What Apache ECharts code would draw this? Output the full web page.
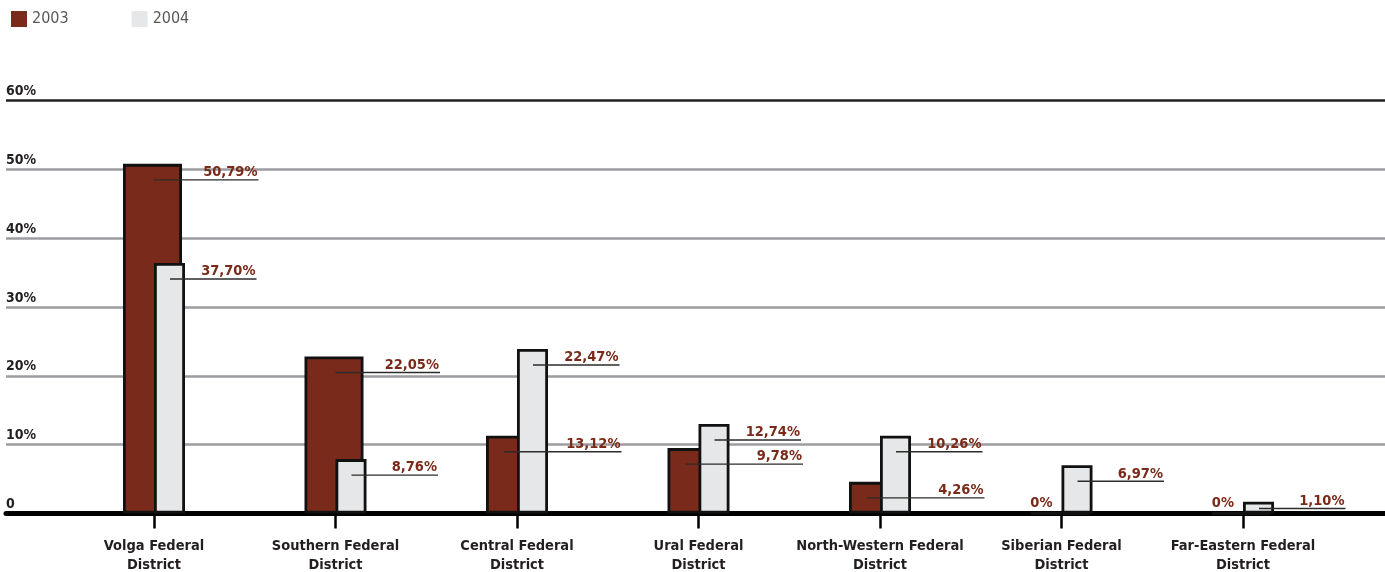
<!DOCTYPE html>
<html style="height: 100%">
<head>
    <meta charset="utf-8">
</head>
<body style="height: 100%; margin: 0; background: #fff">
<div id="container" style="width: 1385px; height: 572px"></div>
<script src="https://cdn.jsdelivr.net/npm/echarts@6/dist/echarts.min.js"></script>
<script type="text/javascript">
// data
var districts = ['Volga Federal District', 'Southern Federal District', 'Central Federal District',
    'Ural Federal District', 'North-Western Federal District', 'Siberian Federal District',
    'Far-Eastern Federal District'];
var bars2003 = [50.8, 22.8, 11.3, 9.5, 4.6, 0, 0];
var bars2004 = [36.4, 7.9, 23.9, 13.0, 11.3, 7.0, 1.7];
var labels2003 = ['50,79%', '22,05%', '13,12%', '9,78%', '4,26%', '0%', '0%'];
var labels2004 = ['37,70%', '8,76%', '22,47%', '12,74%', '10,26%', '6,97%', '1,10%'];
var yTicks = [0, 10, 20, 30, 40, 50, 60];

var boldFont = '"DejaVu Sans Condensed", "DejaVu Sans", sans-serif';
var red = '#7a2a1a';
var grey = '#e6e7e8';

var dom = document.getElementById('container');
var myChart = echarts.init(dom);

// leader line + value text for each bar
function labelSeries(name, values, texts, other, first) {
    return {
        name: name,
        type: 'custom',
        xAxisIndex: 1,
        yAxisIndex: 1,
        z: 5,
        silent: true,
        data: values.map(function (v, i) { return [i, v]; }),
        renderItem: function (params, api) {
            var i = params.dataIndex;
            var v = api.value(1);
            var top = api.coord([i, v]);
            var zero = api.coord([i, 0]);
            var c = top[0];
            var textStyle = {
                text: texts[i],
                fill: '#7a2a19',
                fontFamily: boldFont,
                fontWeight: 'bold',
                fontSize: 14.5,
                align: 'right',
                verticalAlign: 'bottom'
            };
            if (v === 0) {
                return { type: 'text', x: c - 9, y: zero[1] - 3, style: textStyle };
            }
            var y = Math.min(top[1] + 16, zero[1] - 5);
            var x0 = first ? (v > other[i] ? c : c - 13) : c + 16;
            var x1 = first ? c + 104.5 : c + 102.5;
            return {
                type: 'group',
                children: [
                    { type: 'line', shape: { x1: x0, y1: y, x2: x1, y2: y },
                      style: { stroke: '#2b2b2b', lineWidth: 1.4 } },
                    { type: 'text', x: x1 - 1, y: y, style: textStyle }
                ]
            };
        }
    };
}

var option = {
    animation: false,
    legend: {
        data: ['2003', '2004'],
        left: 11,
        top: 11,
        padding: 0,
        icon: 'rect',
        itemWidth: 16,
        itemHeight: 16,
        itemGap: 63,
        itemStyle: { borderWidth: 0 },
        textStyle: {
            fontFamily: '"DejaVu Sans Condensed", "DejaVu Sans", sans-serif',
            fontSize: 16,
            color: '#58595b'
        }
    },
    grid: [
        { left: 6, right: 0, top: 100.5, bottom: 58.5, containLabel: false, outerBoundsMode: 'none' },
        { left: 63.25, right: 51.25, top: 100.5, bottom: 58.5, containLabel: false, outerBoundsMode: 'none' }
    ],
    xAxis: [
        {
            gridIndex: 0, type: 'value', min: 0, max: 1,
            axisLine: { show: true, lineStyle: { color: '#000', width: 5 } },
            axisTick: { show: false },
            axisLabel: { show: false },
            splitLine: { show: false }
        },
        {
            gridIndex: 1, type: 'category', data: districts,
            axisLine: { show: false },
            axisTick: { show: true, alignWithLabel: true, length: 15,
                        lineStyle: { color: '#000', width: 2.5 } },
            axisLabel: {
                margin: 23,
                interval: 0,
                color: '#231f20',
                fontFamily: boldFont,
                fontWeight: 'bold',
                fontSize: 14.5,
                lineHeight: 19,
                formatter: function (v) { return v.replace(' District', '\nDistrict'); }
            }
        }
    ],
    yAxis: [
        {
            gridIndex: 0, type: 'value',
            min: yTicks[0], max: yTicks[yTicks.length - 1], interval: yTicks[1] - yTicks[0],
            axisLine: { show: false },
            axisTick: { show: false },
            axisLabel: {
                inside: true,
                margin: 0,
                verticalAlign: 'bottom',
                padding: [0, 0, 2, 0],
                color: '#231f20',
                fontFamily: boldFont,
                fontWeight: 'bold',
                fontSize: 14,
                formatter: function (v) { return v === 0 ? '0' : v + '%'; }
            },
            splitLine: {
                lineStyle: {
                    color: ['#000', '#9d9da1', '#9d9da1', '#9d9da1', '#9d9da1', '#9d9da1', '#231f20'],
                    width: 2.5
                }
            }
        },
        {
            gridIndex: 1, type: 'value',
            min: yTicks[0], max: yTicks[yTicks.length - 1],
            show: false
        }
    ],
    series: [
        {
            name: '2003', type: 'bar', xAxisIndex: 1, yAxisIndex: 1,
            data: bars2003, barWidth: 59, barGap: '-47.46%',
            itemStyle: { color: red, borderColor: '#111', borderWidth: 2.8 }
        },
        {
            name: '2004', type: 'bar', xAxisIndex: 1, yAxisIndex: 1,
            data: bars2004, barWidth: 31,
            itemStyle: { color: grey, borderColor: '#111', borderWidth: 2.8 }
        },
        labelSeries('lbl2003', bars2003, labels2003, bars2004, true),
        labelSeries('lbl2004', bars2004, labels2004, bars2003, false)
    ]
};

myChart.setOption(option);
</script>
</body>
</html>
